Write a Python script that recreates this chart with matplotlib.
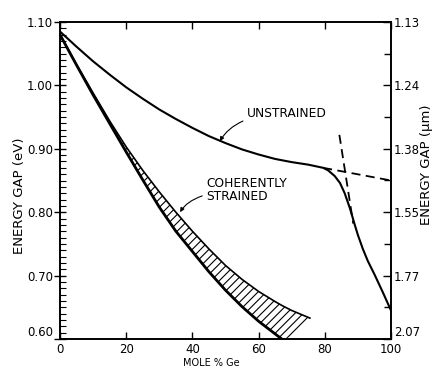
import numpy as np
import matplotlib
matplotlib.use('Agg')
import matplotlib.pyplot as plt
from matplotlib.ticker import MultipleLocator

# valeurs
x_unstrained = [0, 5, 10, 15, 20, 25, 30, 35, 40, 45, 50, 55, 60, 65, 70, 75,
                79.5, 81, 83, 84.6, 86, 87.6, 89, 90, 91.5, 93, 95, 97.5, 100]
e_unstrained = [1.085, 1.061, 1.038, 1.017, 0.997, 0.979, 0.962, 0.947, 0.933, 0.920,
                0.909, 0.899, 0.891, 0.884, 0.879, 0.875, 0.870, 0.866, 0.857, 0.846,
                0.830, 0.806, 0.781, 0.764, 0.742, 0.723, 0.702, 0.674, 0.645]

x_strained = [0, 5, 10, 15, 20, 25, 30, 35, 40, 45, 50, 55, 60, 65, 67, 70, 75.5]
e_strained_lo = [1.080, 1.032, 0.985, 0.940, 0.895, 0.851, 0.808, 0.770, 0.738, 0.706,
                 0.677, 0.651, 0.628, 0.608, 0.600, 0.603, 0.633]
e_strained_hi = [1.080, 1.033, 0.988, 0.944, 0.903, 0.866, 0.832, 0.800, 0.770, 0.742,
                 0.716, 0.694, 0.675, 0.659, 0.653, 0.645, 0.633]
n_lo = 15  # la courbe basse s'arrete sur l'axe a 67 %

dash_h_x = [79.5, 100]
dash_h_e = [0.870, 0.850]
dash_v_x = [84.4, 88.6]
dash_v_e = [0.922, 0.782]

ev_ticks = [0.60, 0.70, 0.80, 0.90, 1.00, 1.10]
um_labels = ['2.07', '1.77', '1.55', '1.38', '1.24', '1.13']
x_ticks = [0, 20, 40, 60, 80, 100]

plt.rcParams['font.family'] = 'DejaVu Sans'
plt.rcParams['hatch.linewidth'] = 0.8

fig = plt.figure(figsize=(4.35, 3.69), dpi=100)
ax = fig.add_axes([60 / 435, 30 / 369, 331 / 435, 317 / 369])
ax.set_xlim(0, 100)
ax.set_ylim(0.60, 1.10)

# courbe non contrainte
ax.plot(x_unstrained, e_unstrained, color='black', lw=1.5, solid_capstyle='round')

# bande contrainte (hachures)
ax.fill_between(x_strained, e_strained_lo, e_strained_hi, facecolor='none',
                edgecolor='black', hatch='////', linewidth=0)
ax.plot(x_strained[:n_lo], e_strained_lo[:n_lo], color='black', lw=2.0)
ax.plot(x_strained, e_strained_hi, color='black', lw=1.2)

# pointilles
ax.plot(dash_h_x, dash_h_e, color='black', lw=1.3, linestyle=(0, (5, 3)))
ax.plot(dash_v_x, dash_v_e, color='black', lw=1.3, linestyle=(0, (5, 3)))

# annotations
ax.annotate('UNSTRAINED', xy=(48.3, 0.912), xytext=(56.5, 0.956),
            fontsize=8.8, ha='left', va='center',
            arrowprops=dict(arrowstyle='-|>', color='black', lw=0.8,
                            mutation_scale=6, shrinkA=1, shrinkB=0,
                            connectionstyle='angle3,angleA=0,angleB=60'))
ax.annotate('COHERENTLY\nSTRAINED', xy=(36.3, 0.800), xytext=(44.2, 0.835),
            fontsize=8.8, ha='left', va='center', linespacing=0.95,
            arrowprops=dict(arrowstyle='-|>', color='black', lw=0.8,
                            mutation_scale=6, shrinkA=1, shrinkB=0,
                            connectionstyle='angle3,angleA=0,angleB=60'))

# axes et graduations
for sp in ax.spines.values():
    sp.set_linewidth(1.2)
ax.set_xticks(x_ticks)
ax.set_xticklabels([str(v) for v in x_ticks], fontsize=8.5)
ax.tick_params(axis='x', which='major', direction='in', top=True, length=5,
               width=1, pad=3)
ax.set_yticks(ev_ticks)
ax.set_yticklabels(['%.2f' % v for v in ev_ticks], fontsize=8.5)
ax.get_yticklabels()[0].set_va('bottom')
ax.yaxis.set_minor_locator(MultipleLocator(0.01))
ax.tick_params(axis='y', which='major', direction='inout', length=8, width=1, pad=1)
ax.tick_params(axis='y', which='minor', direction='in', length=4, width=0.8)

ax2 = ax.twinx()
ax2.set_ylim(0.60, 1.10)
ax2.set_yticks(ev_ticks)
ax2.set_yticklabels(um_labels, fontsize=8.5)
ax2.get_yticklabels()[0].set_va('bottom')
ax2.yaxis.set_minor_locator(MultipleLocator(0.05))
ax2.tick_params(axis='y', which='major', direction='in', length=6, width=1, pad=2)
ax2.tick_params(axis='y', which='minor', direction='in', length=5, width=1)
for sp in ax2.spines.values():
    sp.set_linewidth(1.2)

fig.text(20 / 435, 1 - 196 / 369, 'ENERGY GAP (eV)', rotation=90, fontsize=9.5,
         ha='center', va='center')
fig.text(427 / 435, 1 - 165 / 369, 'ENERGY GAP (\u03bcm)', rotation=90, fontsize=9.5,
         ha='center', va='center')
fig.text(211 / 435, 1 - 363 / 369, 'MOLE % Ge', fontsize=7, ha='center', va='center')

fig.savefig('out.png', dpi=100)
